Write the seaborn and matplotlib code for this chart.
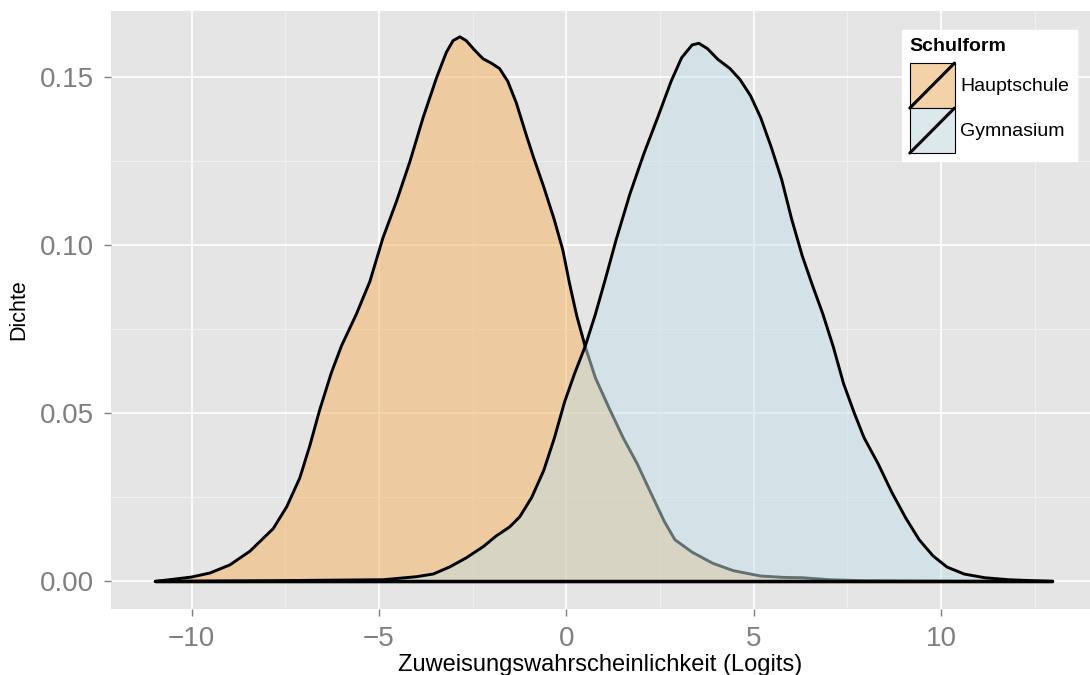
import numpy as np
import pandas as pd
import seaborn as sns
import matplotlib.pyplot as plt
from matplotlib.patches import Patch, Rectangle
from matplotlib.lines import Line2D
from matplotlib.legend_handler import HandlerBase

# density curves
hs_x = [-10.97, -10.0, -9.51, -8.98, -8.44, -7.82, -7.46, -7.11, -6.84, -6.58, -6.27,
        -6.0, -5.6, -5.24, -4.89, -4.53, -4.17, -3.82, -3.46, -3.2, -3.02, -2.84,
        -2.67, -2.44, -2.22, -2.0, -1.78, -1.56, -1.33, -1.06, -0.87, -0.6, -0.32,
        -0.09, 0.09, 0.28, 0.51, 0.78, 1.15, 1.52, 1.89, 2.25, 2.62, 2.9, 3.36,
        3.91, 4.46, 5.19, 5.8, 6.3, 7.03, 7.95, 9.5, 12.99]
hs_y = [0.0, 0.0013, 0.0025, 0.0049, 0.009, 0.0157, 0.0222, 0.0308, 0.0405, 0.0510,
        0.0620, 0.0700, 0.0795, 0.0892, 0.1022, 0.113, 0.1249, 0.1379, 0.1498, 0.1573,
        0.1608, 0.1619, 0.1608, 0.1579, 0.1554, 0.1541, 0.1525, 0.1487, 0.1422,
        0.1325, 0.126, 0.1173, 0.1076, 0.0985, 0.0885, 0.0790, 0.0697, 0.0605, 0.0514,
        0.0427, 0.0351, 0.0265, 0.0178, 0.0124, 0.0087, 0.0054, 0.0032, 0.0016,
        0.0012, 0.0011, 0.0005, 0.0002, 0.0001, 0.0]

gy_x = [-10.97, -8.0, -6.0, -4.89, -4.0, -3.55, -3.11, -2.67, -2.22, -1.87, -1.51,
        -1.24, -0.92, -0.6, -0.32, -0.04, 0.23, 0.51, 0.78, 1.06, 1.33, 1.7, 2.07,
        2.44, 2.8, 3.08, 3.36, 3.54, 3.77, 4.05, 4.37, 4.64, 4.92, 5.19, 5.47, 5.75,
        6.02, 6.3, 6.57, 6.85, 7.13, 7.4, 7.68, 7.95, 8.32, 8.69, 9.06, 9.42, 9.79,
        10.16, 10.62, 11.17, 11.81, 12.96]
gy_y = [0.0, 0.0002, 0.0004, 0.0005, 0.0014, 0.0022, 0.0043, 0.007, 0.0103, 0.0135,
        0.0162, 0.0192, 0.025, 0.033, 0.0425, 0.0535, 0.0620, 0.0700, 0.0795, 0.0905,
        0.1015, 0.1152, 0.1271, 0.1379, 0.1487, 0.1557, 0.1595, 0.16, 0.1584, 0.1552,
        0.1525, 0.1492, 0.1444, 0.1379, 0.1292, 0.1195, 0.1076, 0.0968, 0.0881,
        0.0795, 0.0697, 0.0589, 0.0503, 0.0427, 0.0351, 0.0265, 0.0189, 0.0124,
        0.0076, 0.0043, 0.0022, 0.0011, 0.0005, 0.0]

groups = ['Hauptschule', 'Gymnasium']
fills = {'Hauptschule': '#F5B15B', 'Gymnasium': '#C5DFE7'}
keys = {'Hauptschule': '#F3D2A7', 'Gymnasium': '#DCE8EC'}
x_ticks = [-10, -5, 0, 5, 10]
y_ticks = [0.0, 0.05, 0.10, 0.15]
y_labels = ['0.00', '0.05', '0.10', '0.15']

df = pd.concat([
    pd.DataFrame({'logit': hs_x, 'dichte': hs_y, 'Schulform': 'Hauptschule'}),
    pd.DataFrame({'logit': gy_x, 'dichte': gy_y, 'Schulform': 'Gymnasium'}),
])

sns.set_theme(style='darkgrid', rc={'axes.facecolor': '#E5E5E5', 'grid.color': 'white',
                                    'text.color': 'black', 'axes.labelcolor': 'black'})
plt.rcParams['font.family'] = ['Liberation Sans', 'DejaVu Sans']

fig = plt.figure(figsize=(10.9, 6.75), dpi=100)
ax = fig.add_axes([111 / 1090, 66 / 675, 979 / 1090, 598 / 675])

z = 1
for g in groups:
    d = df[df['Schulform'] == g]
    ax.fill_between(d['logit'], d['dichte'], 0, color=fills[g], alpha=0.5, lw=0, zorder=z)
    sns.lineplot(data=d, x='logit', y='dichte', sort=False, color='black', lw=2.1,
                 ax=ax, zorder=z + 1, legend=False)
    ax.plot([d['logit'].iloc[0], d['logit'].iloc[-1]], [0, 0], color='black', lw=2.4,
            solid_capstyle='butt', zorder=z + 1)
    z += 2

ax.set_xticks(x_ticks)
ax.set_yticks(y_ticks)
ax.set_yticklabels(y_labels)
ax.set_xticks([-7.5, -2.5, 2.5, 7.5, 12.5], minor=True)
ax.set_yticks([0.025, 0.075, 0.125], minor=True)
ax.set_xlim(-12.15, 13.98)
ax.set_ylim(-0.0082, 0.1696)
ax.grid(which='major', color='white', lw=1.2)
ax.grid(which='minor', color='#F2F2F2', lw=0.6)
ax.set_axisbelow(True)
for s in ax.spines.values():
    s.set_visible(False)
ax.tick_params(which='major', length=5, width=1, color='#7F7F7F', labelcolor='#7F7F7F',
               labelsize=20, pad=7, bottom=True, left=True)
ax.tick_params(which='minor', length=0)

ax.set_xlabel('Zuweisungswahrscheinlichkeit (Logits)', fontsize=17, labelpad=2)
ax.set_ylabel('Dichte', fontsize=15.5, labelpad=8)


class DiagKey(HandlerBase):
    def create_artists(self, legend, orig, xd, yd, w, h, fs, trans):
        r = Rectangle((-xd, -yd), w, h, facecolor=orig.get_facecolor(),
                      edgecolor='black', lw=0.8, transform=trans)
        ln = Line2D([-xd, -xd + w], [-yd, -yd + h], color='black', lw=2.2,
                    transform=trans)
        return [r, ln]


handles = [Patch(facecolor=keys[g], label=g) for g in groups]
leg = ax.legend(handles=handles, title='Schulform', loc='upper right',
                bbox_to_anchor=(1077 / 1090, 1 - 30 / 675), bbox_transform=fig.transFigure,
                borderaxespad=0, fontsize=14, handler_map={Patch: DiagKey()},
                handlelength=2.3, handleheight=3.18, labelspacing=0, handletextpad=0.3,
                borderpad=0.4, alignment='left', fancybox=False, framealpha=1,
                title_fontproperties={'weight': 'bold', 'size': 14})
leg._legend_box.sep = 6
leg.get_frame().set_facecolor('white')
leg.get_frame().set_edgecolor('white')

fig.savefig('out.png', dpi=100)
